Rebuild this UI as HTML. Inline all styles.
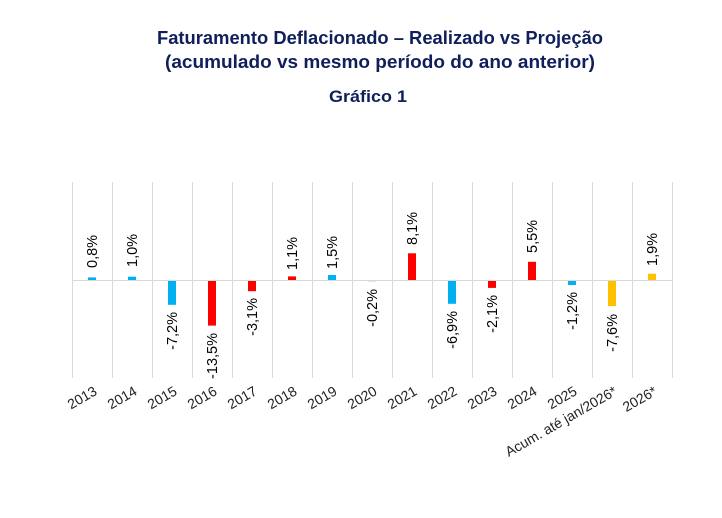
<!DOCTYPE html>
<html><head><meta charset="utf-8"><style>
html,body{margin:0;padding:0;background:#fff;}
svg{display:block;font-family:"Liberation Sans",sans-serif;}
</style></head><body>
<svg width="722" height="518" viewBox="0 0 722 518" xmlns="http://www.w3.org/2000/svg">
<g fill="#0f1f5c" font-weight="bold" text-anchor="middle">
<text x="380" y="44" font-size="18" textLength="446" lengthAdjust="spacingAndGlyphs">Faturamento Deflacionado – Realizado vs Projeção</text>
<text x="380" y="68" font-size="18" textLength="430" lengthAdjust="spacingAndGlyphs">(acumulado vs mesmo período do ano anterior)</text>
<text x="368" y="102" font-size="17" textLength="78" lengthAdjust="spacingAndGlyphs">Gráfico 1</text>
</g>
<g stroke="#d9d9d9" stroke-width="1">
<line x1="72.5" y1="182" x2="72.5" y2="378"/><line x1="112.5" y1="182" x2="112.5" y2="378"/><line x1="152.5" y1="182" x2="152.5" y2="378"/><line x1="192.5" y1="182" x2="192.5" y2="378"/><line x1="232.5" y1="182" x2="232.5" y2="378"/><line x1="272.5" y1="182" x2="272.5" y2="378"/><line x1="312.5" y1="182" x2="312.5" y2="378"/><line x1="352.5" y1="182" x2="352.5" y2="378"/><line x1="392.5" y1="182" x2="392.5" y2="378"/><line x1="432.5" y1="182" x2="432.5" y2="378"/><line x1="472.5" y1="182" x2="472.5" y2="378"/><line x1="512.5" y1="182" x2="512.5" y2="378"/><line x1="552.5" y1="182" x2="552.5" y2="378"/><line x1="592.5" y1="182" x2="592.5" y2="378"/><line x1="632.5" y1="182" x2="632.5" y2="378"/><line x1="672.5" y1="182" x2="672.5" y2="378"/>
<line x1="72" y1="280.5" x2="672" y2="280.5"/>
</g>
<g>
<rect x="88" y="277.4" width="8" height="2.6" fill="#00b0f0"/>
<rect x="128" y="276.7" width="8" height="3.3" fill="#00b0f0"/>
<rect x="168" y="281" width="8" height="23.8" fill="#00b0f0"/>
<rect x="208" y="281" width="8" height="44.6" fill="#ff0000"/>
<rect x="248" y="281" width="8" height="10.2" fill="#ff0000"/>
<rect x="288" y="276.4" width="8" height="3.6" fill="#ff0000"/>
<rect x="328" y="275" width="8" height="5" fill="#00b0f0"/>
<rect x="368" y="281" width="8" height="0.8" fill="#bfe9fa"/>
<rect x="408" y="253.3" width="8" height="26.7" fill="#ff0000"/>
<rect x="448" y="281" width="8" height="22.8" fill="#00b0f0"/>
<rect x="488" y="281" width="8" height="6.9" fill="#ff0000"/>
<rect x="528" y="261.8" width="8" height="18.2" fill="#ff0000"/>
<rect x="568" y="281" width="8" height="4" fill="#00b0f0"/>
<rect x="608" y="281" width="8" height="25.1" fill="#ffc000"/>
<rect x="648" y="273.7" width="8" height="6.3" fill="#ffc000"/>
</g>
<g font-size="14.5" fill="#000">
<text transform="translate(97,268) rotate(-90)">0,8%</text>
<text transform="translate(137,267) rotate(-90)">1,0%</text>
<text transform="translate(177,312) rotate(-90)" text-anchor="end">-7,2%</text>
<text transform="translate(217,333) rotate(-90)" text-anchor="end">-13,5%</text>
<text transform="translate(257,298) rotate(-90)" text-anchor="end">-3,1%</text>
<text transform="translate(297,270) rotate(-90)">1,1%</text>
<text transform="translate(337,269) rotate(-90)">1,5%</text>
<text transform="translate(377,289) rotate(-90)" text-anchor="end">-0,2%</text>
<text transform="translate(417,245) rotate(-90)">8,1%</text>
<text transform="translate(457,311) rotate(-90)" text-anchor="end">-6,9%</text>
<text transform="translate(497,295) rotate(-90)" text-anchor="end">-2,1%</text>
<text transform="translate(537,253) rotate(-90)">5,5%</text>
<text transform="translate(577,292) rotate(-90)" text-anchor="end">-1,2%</text>
<text transform="translate(617,314) rotate(-90)" text-anchor="end">-7,6%</text>
<text transform="translate(657,266) rotate(-90)">1,9%</text>
</g>
<g font-size="14" fill="#222" text-anchor="end">
<text transform="translate(98,394) rotate(-30)">2013</text>
<text transform="translate(138,394) rotate(-30)">2014</text>
<text transform="translate(178,394) rotate(-30)">2015</text>
<text transform="translate(218,394) rotate(-30)">2016</text>
<text transform="translate(258,394) rotate(-30)">2017</text>
<text transform="translate(298,394) rotate(-30)">2018</text>
<text transform="translate(338,394) rotate(-30)">2019</text>
<text transform="translate(378,394) rotate(-30)">2020</text>
<text transform="translate(418,394) rotate(-30)">2021</text>
<text transform="translate(458,394) rotate(-30)">2022</text>
<text transform="translate(498,394) rotate(-30)">2023</text>
<text transform="translate(538,394) rotate(-30)">2024</text>
<text transform="translate(578,394) rotate(-30)">2025</text>
<text transform="translate(618,394) rotate(-30)">Acum. até jan/2026*</text>
<text transform="translate(658,394) rotate(-30)">2026*</text>
</g>
</svg>
</body></html>
